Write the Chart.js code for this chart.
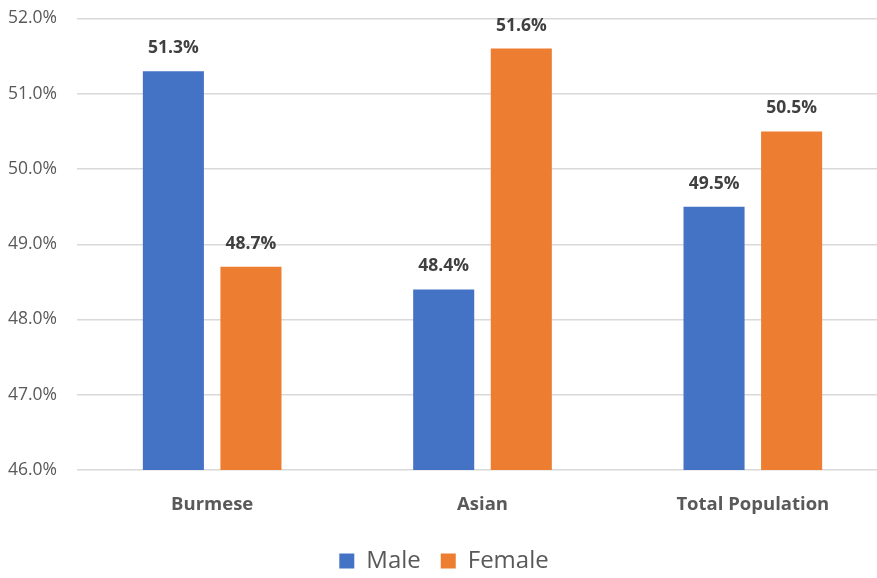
<!DOCTYPE html>
<html>
<head>
<meta charset="utf-8">
<script src="https://cdn.jsdelivr.net/npm/chart.js@4.4.1/dist/chart.umd.min.js"></script>
<style>
  html, body { margin: 0; padding: 0; background: #fff; overflow: hidden; }
  #wrap { width: 888px; height: 590px; margin-top: -12px; }
</style>
</head>
<body>
<div id="wrap"><canvas id="grafico"></canvas></div>
<script>
// Datos del gráfico
const categorias = ["Burmese", "Asian", "Total Population"];
const hombres = [51.3, 48.4, 49.5];
const mujeres = [48.7, 51.6, 50.5];
const ticksY = [46, 47, 48, 49, 50, 51, 52];

const fuente = "'Open Sans', 'Noto Sans', sans-serif";

// Etiquetas de valor encima de cada barra
const etiquetasValor = {
  id: "etiquetasValor",
  afterDatasetsDraw(chart) {
    const ctx = chart.ctx;
    ctx.save();
    ctx.font = "bold 17.5px " + fuente;
    ctx.fillStyle = "#404040";
    ctx.textAlign = "center";
    ctx.textBaseline = "middle";
    chart.data.datasets.forEach((ds, i) => {
      chart.getDatasetMeta(i).data.forEach((bar, j) => {
        ctx.fillText(ds.data[j].toFixed(1) + "%", bar.x, bar.y - 23);
      });
    });
    ctx.restore();
  }
};

new Chart(document.getElementById("grafico").getContext("2d"), {
  type: "bar",
  data: {
    labels: categorias,
    datasets: [
      { label: "Male", data: hombres, backgroundColor: "#4472C4" },
      { label: "Female", data: mujeres, backgroundColor: "#ED7D31" }
    ]
  },
  options: {
    responsive: true,
    maintainAspectRatio: false,
    animation: false,
    categoryPercentage: 0.574,
    barPercentage: 0.787,
    layout: { padding: { top: -2, left: 0, right: 0, bottom: -5 } },
    scales: {
      x: {
        grid: { display: false },
        border: { display: false },
        ticks: {
          color: "#595959",
          font: { family: fuente, size: 18.5, weight: "bold" },
          padding: 16
        },
        afterFit(scale) { scale.height = 59; }
      },
      y: {
        min: 46,
        max: 52,
        afterBuildTicks(scale) { scale.ticks = ticksY.map(v => ({ value: v })); },
        grid: { color: "#d9d9d9", lineWidth: 1.5, drawTicks: false },
        border: { display: false },
        ticks: {
          color: "#595959",
          font: { family: fuente, size: 17.5 },
          padding: 20,
          callback: v => v.toFixed(1) + "%"
        },
        afterFit(scale) { scale.width = 77; }
      }
    },
    plugins: {
      legend: {
        position: "bottom",
        labels: {
          color: "#595959",
          font: { family: fuente, size: 24 },
          boxWidth: 15,
          boxHeight: 15,
          padding: 20
        }
      },
      tooltip: { enabled: false }
    }
  },
  plugins: [etiquetasValor]
});
</script>
</body>
</html>
